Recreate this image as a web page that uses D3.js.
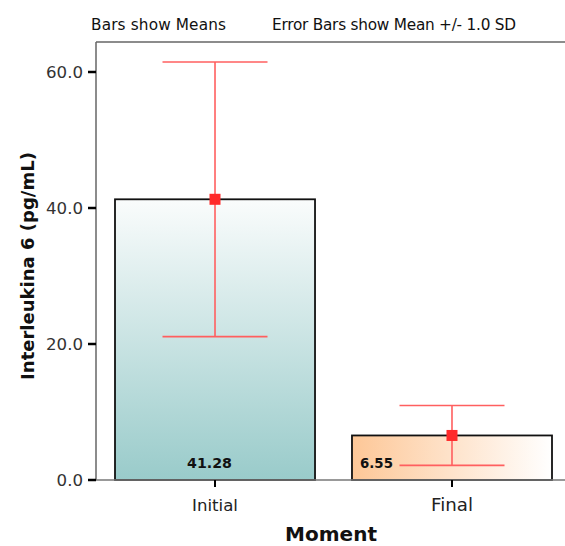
<!DOCTYPE html>
<html><head><meta charset="utf-8">
<script src="https://cdn.jsdelivr.net/npm/d3@7/dist/d3.min.js"></script>
<style>body{margin:0;background:#fff}svg{display:block}</style>
</head><body>
<script>
const categories = ["Initial", "Final"];
const means = [41.28, 6.55];
const sds = [20.2, 4.4];
const valueLabels = ["41.28", "6.55"];
const yTicks = [0, 20, 40, 60];

(function () {
const W = 565, H = 546;
const svg = d3.select("body").append("svg").attr("width", W).attr("height", H);
const pLeft = 96, pTop = 42, pBottom = 480, pRight = 565;
const FF = "DejaVu Sans, Verdana, sans-serif";

function fit(sel, target) {
  const len = sel.node().getComputedTextLength();
  const fs = parseFloat(sel.attr("font-size"));
  const nfs = fs * target / len;
  sel.attr("font-size", nfs.toFixed(2));
  return nfs;
}

const y = d3.scaleLinear().domain([0, 60]).range([pBottom, 72]);
const x = d3.scaleBand().domain(categories).range([115, 552]).paddingInner(0.156).paddingOuter(0);

const defs = svg.append("defs");
const g1 = defs.append("linearGradient").attr("id", "gInit").attr("x1", 0).attr("y1", 0).attr("x2", 0).attr("y2", 1);
g1.append("stop").attr("offset", "0%").attr("stop-color", "#fafcfc");
g1.append("stop").attr("offset", "100%").attr("stop-color", "#99cbca");
const g2 = defs.append("linearGradient").attr("id", "gFin").attr("x1", 0).attr("y1", 0).attr("x2", 1).attr("y2", 0);
g2.append("stop").attr("offset", "0%").attr("stop-color", "#fdc797");
g2.append("stop").attr("offset", "100%").attr("stop-color", "#ffffff");
const fills = ["url(#gInit)", "url(#gFin)"];

// frame
svg.append("line").attr("x1", pLeft).attr("x2", pRight).attr("y1", pTop).attr("y2", pTop).attr("stroke", "#666").attr("stroke-width", 1.5);
svg.append("line").attr("x1", pLeft).attr("x2", pLeft).attr("y1", pTop).attr("y2", pBottom).attr("stroke", "#666").attr("stroke-width", 1.5);

// bars
svg.selectAll("rect.bar").data(categories).enter().append("rect")
  .attr("x", d => x(d)).attr("width", x.bandwidth())
  .attr("y", (d, i) => y(means[i])).attr("height", (d, i) => y(0) - y(means[i]))
  .attr("fill", (d, i) => fills[i]).attr("stroke", "#111").attr("stroke-width", 1.8);

svg.append("line").attr("x1", pLeft).attr("x2", pRight).attr("y1", pBottom).attr("y2", pBottom).attr("stroke", "#777").attr("stroke-width", 1.5);

// y axis ticks (common font size fitted on the widest label)
const probe = svg.append("text").attr("font-family", FF).attr("font-size", 14).text("60.0");
const tickFs = fit(probe, 37);
probe.remove();
yTicks.forEach(t => {
  svg.append("line").attr("x1", 88).attr("x2", pLeft).attr("y1", y(t)).attr("y2", y(t)).attr("stroke", "#000").attr("stroke-width", 2.5);
  svg.append("text").attr("x", 83).attr("y", y(t) + 6).attr("text-anchor", "end")
    .attr("font-family", FF).attr("font-size", tickFs).attr("fill", "#333").text(t.toFixed(1));
});
// x ticks
const xw = [46, 42];
categories.forEach((c, i) => {
  const cx = x(c) + x.bandwidth() / 2;
  svg.append("line").attr("x1", cx).attr("x2", cx).attr("y1", pBottom).attr("y2", pBottom + 7).attr("stroke", "#000").attr("stroke-width", 2);
  const tx = svg.append("text").attr("x", cx).attr("y", 510.5).attr("text-anchor", "middle")
    .attr("font-family", FF).attr("font-size", 15).attr("fill", "#222").text(c);
  fit(tx, xw[i]);
});

// error bars
const capW = 105;
categories.forEach((c, i) => {
  const cx = x(c) + x.bandwidth() / 2;
  const hi = means[i] + sds[i], lo = means[i] - sds[i];
  const col = "#ff5f5f";
  svg.append("line").attr("x1", cx).attr("x2", cx).attr("y1", y(hi)).attr("y2", y(lo)).attr("stroke", col).attr("stroke-width", 1.6);
  [hi, lo].forEach(v => svg.append("line").attr("x1", cx - capW / 2).attr("x2", cx + capW / 2).attr("y1", y(v)).attr("y2", y(v)).attr("stroke", col).attr("stroke-width", 1.6));
  svg.append("rect").attr("x", cx - 5.5).attr("y", y(means[i]) - 5.5).attr("width", 11).attr("height", 11).attr("fill", "#ff2a2a");
});

// value labels
fit(svg.append("text").attr("x", 187).attr("y", 468)
  .attr("font-family", FF).attr("font-size", 13).attr("font-weight", "bold").attr("fill", "#111").text(valueLabels[0]), 45);
fit(svg.append("text").attr("x", 360).attr("y", 468)
  .attr("font-family", FF).attr("font-size", 13).attr("font-weight", "bold").attr("fill", "#111").text(valueLabels[1]), 33);

// header texts: same font size, exact widths via textLength
svg.append("text").attr("x", 91).attr("y", 30).attr("font-family", FF).attr("font-size", 15.3).attr("fill", "#111")
  .attr("textLength", 135).attr("lengthAdjust", "spacing").text("Bars show Means");
svg.append("text").attr("x", 272).attr("y", 30).attr("font-family", FF).attr("font-size", 15.3).attr("fill", "#111")
  .attr("textLength", 244).attr("lengthAdjust", "spacing").text("Error Bars show Mean +/- 1.0 SD");

// axis titles
fit(svg.append("text").attr("transform", "translate(34,266) rotate(-90)").attr("text-anchor", "middle")
  .attr("font-family", FF).attr("font-size", 17).attr("font-weight", "bold").attr("fill", "#111").text("Interleukina 6 (pg/mL)"), 228);
fit(svg.append("text").attr("x", 331).attr("y", 541).attr("text-anchor", "middle")
  .attr("font-family", FF).attr("font-size", 18).attr("font-weight", "bold").attr("fill", "#111").text("Moment"), 92);
})();
</script>
</body></html>
